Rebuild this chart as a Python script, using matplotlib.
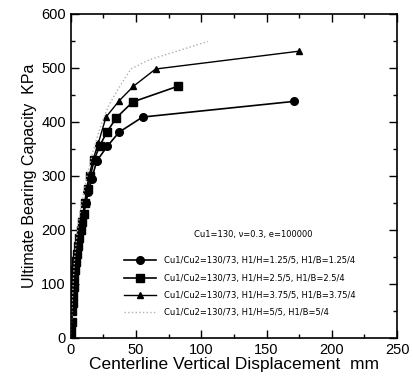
import matplotlib
matplotlib.use("Agg")
import matplotlib.pyplot as plt
from matplotlib.ticker import MultipleLocator

plt.rcParams['font.family'] = ['Liberation Sans', 'DejaVu Sans']

# Load-displacement curves (displacement mm, bearing capacity kPa)
x_125 = [0, 0.3, 0.6, 1, 1.4, 1.8, 2.3, 2.8, 3.4, 4, 4.8, 5.6, 6.5, 7.5,
         8.6, 10, 11.5, 13.5, 16, 20, 28, 37, 55, 171]
y_125 = [0, 15, 30, 50, 65, 80, 95, 110, 125, 140, 155, 170, 185, 200,
         215, 230, 250, 270, 295, 328, 355, 381, 409, 438]

x_250 = [0, 0.3, 0.6, 1, 1.4, 1.8, 2.3, 2.8, 3.4, 4, 4.8, 5.6, 6.5, 7.5,
         8.5, 9.8, 11, 13, 15, 18, 22, 27.6, 35, 47.5, 82]
y_250 = [0, 15, 30, 50, 65, 80, 95, 110, 125, 140, 155, 170, 185, 200,
         215, 230, 250, 275, 300, 330, 355, 381, 408, 437, 466]

x_375 = [0, 0.3, 0.6, 1, 1.4, 1.8, 2.3, 2.8, 3.4, 4, 4.8, 5.5, 6.3, 7.2,
         8.2, 9.4, 10.6, 12, 14, 17, 21, 27, 37, 48, 65, 175]
y_375 = [0, 15, 30, 50, 65, 80, 95, 110, 125, 140, 155, 170, 185, 200,
         215, 230, 250, 275, 300, 330, 360, 409, 439, 466, 498, 531]

x_500 = [0, 1, 2, 3, 4.5, 6, 8, 10, 12, 14.5, 17, 20, 24, 29, 36, 46, 60, 80, 105]
y_500 = [0, 60, 110, 150, 185, 215, 245, 270, 295, 320, 345, 370, 400, 430,
         460, 498, 515, 530, 549]

labels = [
    "Cu1/Cu2=130/73, H1/H=1.25/5, H1/B=1.25/4",
    "Cu1/Cu2=130/73, H1/H=2.5/5, H1/B=2.5/4",
    "Cu1/Cu2=130/73, H1/H=3.75/5, H1/B=3.75/4",
    "Cu1/Cu2=130/73, H1/H=5/5, H1/B=5/4",
]
legend_title = "Cu1=130, \u03bd=0.3, e=100000"

fig = plt.figure(figsize=(4.14, 3.87), dpi=100)
ax = fig.add_axes([0.171, 0.127, 0.788, 0.837])

ax.plot(x_125, y_125, color='black', lw=1.2, marker='o', ms=5.5, label=labels[0])
ax.plot(x_250, y_250, color='black', lw=1.2, marker='s', ms=5.5, label=labels[1])
ax.plot(x_375, y_375, color='black', lw=1.0, marker='^', ms=4, label=labels[2])
ax.plot(x_500, y_500, color='#b0b0b0', lw=1.0, ls=':', label=labels[3])

ax.set_xlim(0, 250)
ax.set_ylim(0, 600)
ax.xaxis.set_major_locator(MultipleLocator(50))
ax.xaxis.set_minor_locator(MultipleLocator(25))
ax.yaxis.set_major_locator(MultipleLocator(100))
ax.yaxis.set_minor_locator(MultipleLocator(50))
ax.tick_params(which='both', direction='in', top=True, right=True,
               labelsize=10.5, width=1.0)
ax.tick_params(which='major', length=6)
ax.tick_params(which='minor', length=3)
for s in ax.spines.values():
    s.set_linewidth(1.2)

ax.set_xlabel("Centerline Vertical Displacement  mm", fontsize=12.5, labelpad=0)
ax.set_ylabel("Ultimate Bearing Capacity  KPa", fontsize=11.5, labelpad=3)

# material parameters sit above the legend entries
ax.text(0.558, 0.319, legend_title, transform=ax.transAxes, ha='center',
        va='center', fontsize=6, family='DejaVu Sans')
leg = ax.legend(frameon=False, loc='lower left',
                bbox_to_anchor=(0.14, 0.04), handlelength=3.8,
                labelspacing=1.0, handletextpad=1.0,
                prop={'family': 'DejaVu Sans', 'size': 6})

fig.savefig("out.png", dpi=100)
